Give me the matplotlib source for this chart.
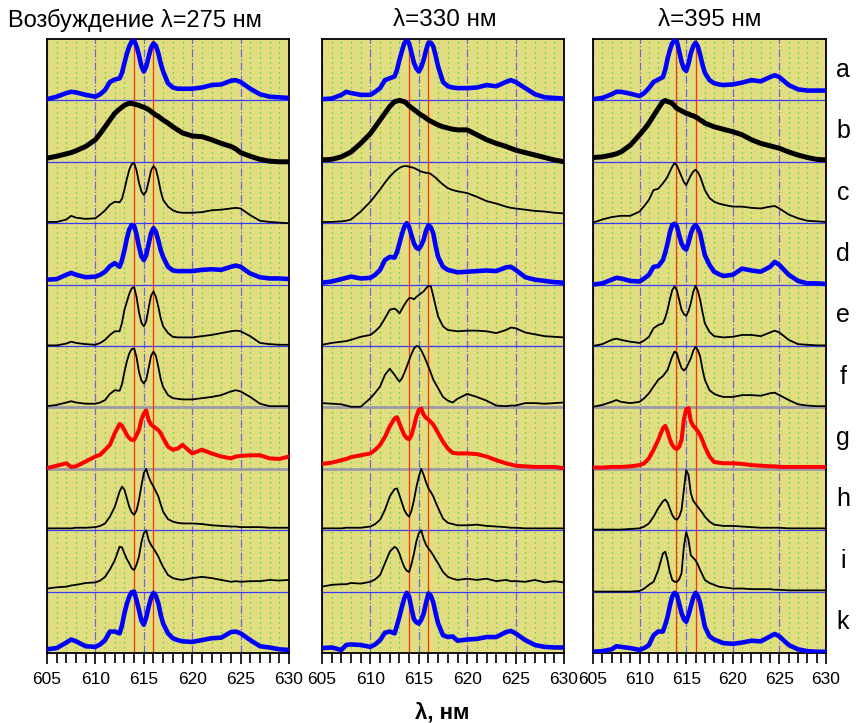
import matplotlib
matplotlib.use('Agg')
import matplotlib.pyplot as plt
from matplotlib.ticker import MultipleLocator

plt.rcParams['font.family'] = ['Liberation Sans', 'DejaVu Sans']

# ---------------- data ----------------
wavelength = [605, 606, 607, 607.5, 608, 609, 610, 610.5, 611, 611.5, 612, 612.5, 612.75,
              613, 613.25, 613.5, 613.75, 614, 614.25, 614.5, 614.75, 615, 615.25, 615.5,
              615.75, 616, 616.25, 616.5, 616.75, 617, 617.5, 618, 618.5, 619, 620, 621,
              622, 623, 624, 624.5, 625, 626, 627, 628, 629, 630]

row_labels = ['a', 'b', 'c', 'd', 'e', 'f', 'g', 'h', 'i', 'k']
panel_titles = ['Возбуждение λ=275 нм', 'λ=330 нм', 'λ=395 нм']
x_ticks = [605, 610, 615, 620, 625, 630]
reference_lines = [613.95, 616.0]

# excitation 275 nm
s275_a = [.02,.06,.12,.14,.13,.09,.06,.10,.17,.30,.34,.36,.45,.61,.76,.88,.96,.98,.88,.74,.56,.47,.55,.71,.86,.93,.89,.77,.60,.47,.28,.21,.19,.19,.19,.21,.25,.26,.32,.33,.30,.19,.10,.06,.05,.04]
s275_b = [.06,.09,.13,.15,.18,.25,.36,.46,.57,.68,.79,.86,.89,.92,.94,.95,.95,.94,.93,.92,.90,.89,.87,.85,.82,.79,.76,.74,.71,.68,.63,.57,.52,.47,.42,.41,.36,.30,.25,.21,.15,.09,.04,.01,0,0]
s275_c = [.02,.02,.06,.12,.09,.07,.08,.14,.21,.30,.35,.34,.40,.55,.72,.87,.96,.98,.86,.66,.52,.46,.52,.68,.86,.93,.88,.72,.52,.38,.27,.21,.18,.17,.17,.18,.21,.22,.24,.25,.24,.13,.04,.02,.01,0]
s275_d = [.08,.09,.16,.19,.16,.12,.13,.16,.21,.30,.35,.29,.40,.56,.75,.90,.97,.96,.82,.62,.46,.40,.48,.66,.84,.92,.86,.72,.56,.45,.29,.23,.22,.22,.22,.24,.25,.24,.29,.31,.29,.18,.12,.10,.10,.09]
s275_e = [.01,.01,.04,.07,.05,.03,.02,.05,.10,.18,.24,.24,.38,.59,.72,.85,.94,.96,.80,.55,.38,.32,.40,.62,.82,.89,.80,.64,.45,.32,.21,.15,.14,.14,.14,.16,.18,.21,.24,.25,.24,.16,.05,.03,.02,.02]
s275_f = [.02,.04,.08,.10,.08,.06,.06,.08,.12,.22,.28,.27,.38,.58,.75,.88,.95,.96,.82,.58,.44,.39,.45,.64,.84,.91,.84,.66,.46,.33,.20,.15,.14,.13,.13,.15,.17,.20,.26,.28,.26,.17,.06,.02,.02,.02]
s275_g = [.01,.05,.09,.03,.04,.12,.20,.23,.31,.39,.58,.73,.70,.63,.55,.50,.47,.47,.55,.63,.80,.90,.95,.79,.72,.69,.66,.63,.58,.50,.36,.31,.33,.39,.25,.31,.25,.20,.17,.20,.21,.22,.22,.17,.16,.20]
s275_h = [.03,.03,.03,.03,.04,.04,.05,.07,.11,.22,.38,.63,.71,.66,.52,.38,.29,.25,.32,.49,.72,.93,1.0,.87,.78,.71,.63,.55,.42,.30,.18,.14,.12,.11,.11,.10,.08,.07,.06,.06,.05,.05,.05,.04,.04,.04]
s275_i = [.05,.07,.08,.10,.11,.14,.15,.18,.24,.36,.51,.73,.72,.62,.53,.46,.38,.35,.44,.57,.80,.95,1.0,.84,.76,.70,.64,.57,.48,.40,.27,.22,.20,.19,.22,.24,.22,.19,.16,.17,.16,.17,.17,.19,.18,.19]
s275_k = [.06,.08,.17,.22,.19,.11,.10,.14,.21,.35,.35,.32,.45,.65,.80,.92,.99,1.0,.86,.70,.53,.46,.58,.75,.90,.98,.93,.81,.62,.48,.32,.24,.21,.19,.18,.21,.24,.25,.34,.35,.32,.21,.11,.09,.06,.05]

# excitation 330 nm
s330_a = [.02,.03,.09,.14,.12,.09,.09,.14,.20,.33,.36,.39,.50,.66,.80,.93,.98,.93,.77,.61,.52,.47,.54,.66,.82,.94,.94,.88,.72,.55,.30,.23,.21,.20,.20,.21,.25,.23,.30,.33,.30,.20,.10,.05,.04,.03]
s330_b = [.03,.04,.08,.12,.16,.30,.46,.57,.68,.79,.90,.98,.99,1.0,.99,.98,.95,.91,.88,.85,.82,.79,.76,.74,.71,.68,.66,.64,.62,.60,.57,.55,.53,.52,.52,.44,.36,.30,.25,.22,.19,.15,.11,.07,.03,0]
s330_c = [.02,.02,.03,.04,.06,.19,.35,.45,.55,.66,.76,.84,.87,.90,.92,.93,.93,.92,.91,.90,.88,.86,.84,.83,.82,.82,.80,.77,.74,.70,.63,.57,.54,.52,.49,.43,.36,.32,.27,.25,.24,.22,.20,.19,.17,.16]
s330_d = [.03,.05,.09,.11,.13,.10,.11,.16,.24,.40,.45,.44,.53,.67,.82,.94,1.0,.94,.80,.67,.60,.58,.64,.73,.88,.97,.93,.83,.62,.45,.29,.24,.22,.20,.21,.22,.23,.22,.28,.29,.24,.12,.08,.06,.04,.03]
s330_e = [.02,.05,.07,.08,.10,.15,.18,.24,.32,.45,.59,.61,.58,.53,.60,.67,.73,.78,.78,.76,.80,.83,.86,.89,.94,.98,.97,.81,.64,.48,.32,.26,.25,.24,.25,.25,.24,.21,.26,.30,.29,.22,.19,.16,.15,.14]
s330_f = [.07,.06,.05,.03,.01,.01,.15,.24,.34,.53,.63,.53,.47,.42,.47,.56,.66,.77,.87,.96,1.0,.99,.93,.85,.76,.66,.56,.45,.38,.31,.17,.11,.08,.14,.22,.17,.11,.03,.02,.03,.03,.07,.07,.06,.07,.08]
s330_g = [.08,.10,.14,.16,.19,.22,.25,.31,.39,.52,.69,.82,.84,.74,.64,.55,.50,.48,.55,.69,.85,.96,.98,.88,.83,.80,.76,.72,.65,.58,.44,.33,.26,.25,.25,.24,.20,.14,.09,.07,.05,.04,.03,.03,.03,.01]
s330_h = [.03,.03,.03,.04,.04,.04,.06,.10,.17,.33,.55,.67,.68,.57,.45,.33,.26,.22,.32,.49,.70,.87,1.0,.90,.78,.68,.62,.55,.45,.36,.19,.12,.10,.08,.08,.09,.07,.06,.05,.04,.04,.03,.03,.03,.03,.03]
s330_i = [.08,.11,.12,.12,.14,.13,.16,.20,.27,.46,.65,.73,.70,.62,.50,.40,.34,.32,.45,.62,.82,.95,1.0,.86,.76,.70,.65,.59,.52,.46,.32,.24,.21,.19,.21,.19,.21,.17,.19,.17,.17,.16,.19,.15,.17,.15]
s330_k = [.08,.09,.05,.13,.14,.13,.10,.14,.21,.33,.35,.32,.45,.59,.75,.89,.98,.92,.72,.55,.50,.48,.54,.64,.82,.97,.93,.82,.64,.48,.29,.26,.27,.20,.22,.23,.26,.26,.34,.36,.32,.21,.13,.10,.09,.09]

# excitation 395 nm
s395_a = [.02,.04,.10,.14,.14,.11,.07,.12,.20,.30,.34,.38,.50,.68,.82,.93,.98,.96,.80,.63,.52,.48,.60,.77,.88,.94,.88,.74,.58,.45,.33,.28,.26,.25,.26,.29,.33,.31,.38,.41,.38,.25,.18,.16,.16,.16]
s395_b = [.07,.08,.11,.13,.16,.27,.44,.53,.63,.75,.87,.98,1.0,.98,.97,.95,.91,.87,.85,.83,.81,.79,.78,.76,.75,.73,.71,.68,.66,.63,.60,.57,.55,.53,.49,.44,.36,.30,.26,.24,.22,.16,.11,.07,.04,.03]
s395_c = [.01,.06,.10,.11,.12,.12,.19,.28,.38,.54,.56,.65,.70,.76,.84,.92,.98,.94,.85,.76,.67,.62,.70,.78,.84,.87,.83,.76,.65,.54,.41,.35,.32,.30,.27,.27,.25,.24,.27,.28,.24,.14,.08,.04,.03,.02]
s395_d = [0,.02,.08,.11,.10,.06,.05,.10,.16,.29,.30,.40,.52,.67,.85,.97,.99,.95,.80,.67,.60,.57,.68,.83,.93,.97,.92,.83,.65,.48,.32,.21,.17,.14,.16,.26,.23,.21,.29,.37,.32,.16,.06,.02,.02,.01]
s395_e = [0,.03,.10,.12,.10,.07,.05,.09,.15,.29,.34,.37,.46,.59,.76,.91,.97,.91,.75,.59,.52,.49,.57,.70,.88,.98,.90,.75,.55,.37,.23,.16,.15,.14,.15,.18,.18,.16,.22,.25,.22,.10,.03,.02,.01,.01]
s395_f = [.01,.04,.09,.12,.09,.07,.09,.15,.23,.34,.45,.51,.56,.61,.72,.83,.91,.88,.75,.64,.60,.64,.72,.80,.92,.99,.93,.83,.62,.45,.28,.22,.19,.17,.17,.20,.20,.19,.23,.24,.20,.12,.05,.03,.02,.02]
s395_g = [.02,.02,.03,.03,.03,.04,.06,.09,.17,.31,.47,.66,.70,.61,.48,.39,.34,.32,.36,.47,.80,.97,.99,.77,.70,.66,.61,.55,.46,.36,.20,.11,.10,.09,.09,.08,.06,.05,.04,.04,.03,.03,.03,.03,.03,.03]
s395_h = [.01,.01,.01,.01,.01,.02,.03,.06,.11,.22,.36,.47,.50,.45,.35,.25,.19,.17,.22,.33,.66,.98,.90,.60,.48,.43,.38,.33,.28,.22,.14,.09,.08,.07,.07,.06,.05,.04,.04,.04,.04,.03,.03,.03,.03,.03]
s395_i = [0,0,0,0,0,0,.01,.05,.11,.16,.35,.62,.65,.51,.32,.19,.16,.16,.20,.30,.73,.97,.84,.59,.55,.51,.44,.35,.27,.19,.14,.11,.08,.07,.05,.05,.04,.04,.04,.03,.03,.02,.02,.02,.02,.02]
s395_k = [.02,.03,.06,.11,.10,.08,.05,.08,.13,.29,.35,.35,.46,.59,.77,.92,.98,.95,.80,.65,.55,.51,.62,.76,.90,.98,.93,.81,.62,.43,.27,.22,.19,.16,.15,.17,.20,.19,.27,.31,.27,.13,.06,.03,.02,.02]

panels = [
    [s275_a, s275_b, s275_c, s275_d, s275_e, s275_f, s275_g, s275_h, s275_i, s275_k],
    [s330_a, s330_b, s330_c, s330_d, s330_e, s330_f, s330_g, s330_h, s330_i, s330_k],
    [s395_a, s395_b, s395_c, s395_d, s395_e, s395_f, s395_g, s395_h, s395_i, s395_k],
]

# ---------------- styles ----------------
BG = '#E2DD80'
thick_blue = dict(color='#0000FF', lw=3.3)
thick_black = dict(color='black', lw=3.6)
thin_black = dict(color='black', lw=1.3)
thick_red = dict(color='#FF0000', lw=2.9)
row_styles = [thick_blue, thick_black, thin_black, thick_blue, thin_black,
              thin_black, thick_red, thin_black, thin_black, thick_blue]

W, H = 861, 723
fig = plt.figure(figsize=(W / 100, H / 100), dpi=100)

axes_px = [(47, 242), (322, 242), (593, 233)]
top_px, bot_px = 39, 653
nrows = len(row_labels)

for p, (left, width) in enumerate(axes_px):
    ax = fig.add_axes([left / W, 1 - bot_px / H, width / W, (bot_px - top_px) / H])
    ax.set_facecolor(BG)
    ax.set_xlim(605, 630)
    ax.set_ylim(0, nrows)
    ax.xaxis.set_major_locator(MultipleLocator(5))
    ax.xaxis.set_minor_locator(MultipleLocator(1))
    ax.set_xticks(x_ticks)
    ax.set_xticklabels([str(t) for t in x_ticks])
    ax.set_yticks([])
    ax.grid(which='minor', axis='x', color='#22E022', linestyle=(0, (1, 3)), lw=0.9, zorder=0)
    ax.grid(which='major', axis='x', color='#6868D8', linestyle='-.', lw=0.9, zorder=0)
    ax.set_axisbelow(True)
    ax.tick_params(axis='x', which='major', direction='out', length=8, width=1.2,
                   labelsize=12.5, pad=6)
    ax.tick_params(axis='x', which='minor', direction='out', length=7, width=1.2)
    for sp in ax.spines.values():
        sp.set_linewidth(1.3)
    # separators
    for b in range(1, nrows):
        if b in (3, 4):
            ax.axhline(b, color='#9A9AA8', lw=2.0, zorder=1)
        else:
            ax.axhline(b, color='#3A3AFF', lw=0.9, zorder=1)
    for xl in reference_lines:
        ax.axvline(xl, color='#FF3300', lw=0.9, zorder=1.5)
    for r, spec in enumerate(panels[p]):
        offset = nrows - 1 - r
        ax.plot(wavelength, [offset + v for v in spec], solid_joinstyle='round',
                solid_capstyle='round', zorder=3, clip_on=True, **row_styles[r])

# titles
fig.text(8 / W, 1 - 20 / H, panel_titles[0], ha='left', va='center', fontsize=17)
fig.text(445 / W, 1 - 20 / H, panel_titles[1], ha='center', va='center', fontsize=17.5)
fig.text(710 / W, 1 - 20 / H, panel_titles[2], ha='center', va='center', fontsize=17.5)

# row labels
row_h = (bot_px - top_px) / nrows
for r, lab in enumerate(row_labels):
    yc = top_px + (r + 0.5) * row_h
    fig.text(843 / W, 1 - yc / H, lab, ha='center', va='center', fontsize=18)

fig.text(442 / W, 1 - 713 / H, 'λ, нм', ha='center', va='center', fontsize=16,
         fontweight='bold')

fig.savefig('out.png', dpi=100, facecolor='white')
